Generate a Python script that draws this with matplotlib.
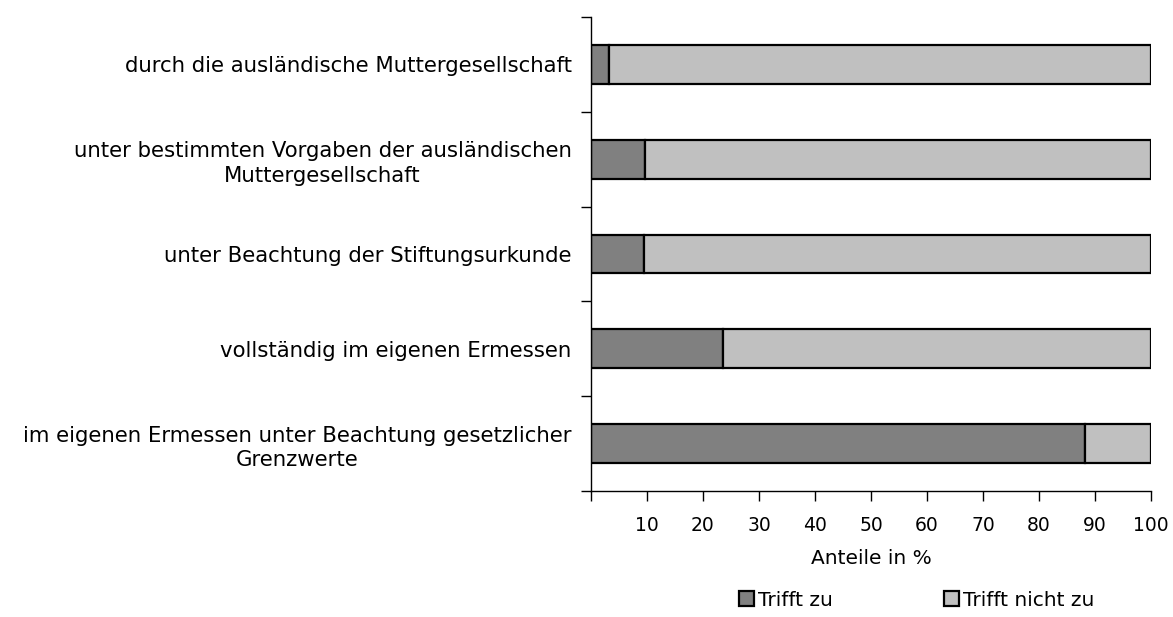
import numpy as np
import matplotlib.pyplot as plt

plt.rcParams['font.family'] = ['DejaVu Sans']

categories = [
    'durch die ausländische Muttergesellschaft',
    'unter bestimmten Vorgaben der ausländischen\nMuttergesellschaft',
    'unter Beachtung der Stiftungsurkunde',
    'vollständig im eigenen Ermessen',
    'im eigenen Ermessen unter Beachtung gesetzlicher\nGrenzwerte',
]
trifft_zu = [3.3, 9.7, 9.4, 23.5, 88.2]
trifft_nicht_zu = [100 - v for v in trifft_zu]

fig = plt.figure(figsize=(11.73, 6.17), dpi=100)
ax = fig.add_axes([591 / 1173, 1 - 491 / 617, 560 / 1173, 474 / 617])

y = np.arange(len(categories))[::-1]
ax.barh(y, trifft_zu, height=0.41, color='#808080', edgecolor='black',
        linewidth=1.6, label='Trifft zu')
ax.barh(y, trifft_nicht_zu, left=trifft_zu, height=0.41, color='#c0c0c0',
        edgecolor='black', linewidth=1.6, label='Trifft nicht zu')

ax.set_xlim(0, 100)
ax.set_ylim(-0.5, len(categories) - 0.5)

# x-Achse: Tick bei 0 ohne Beschriftung
ax.set_xticks(np.arange(0, 101, 10))
ax.set_xticklabels([''] + [str(v) for v in range(10, 101, 10)])
ax.tick_params(axis='x', direction='out', length=7, width=1, labelsize=13.5, pad=11)

# y-Achse: Ticks an den Grenzen, Beschriftung in der Mitte
ax.set_yticks(np.arange(-0.5, len(categories), 1.0))
ax.set_yticklabels([])
ax.set_yticks(y, minor=True)
ax.set_yticklabels(categories, minor=True, fontsize=15.3, ha='right',
                   multialignment='center', linespacing=1.3)
ax.tick_params(axis='y', which='major', direction='out', length=7, width=1)
ax.tick_params(axis='y', which='minor', length=0, pad=14)

for s in ['top', 'right']:
    ax.spines[s].set_visible(False)
for s in ['left', 'bottom']:
    ax.spines[s].set_linewidth(1)

ax.set_xlabel('Anteile in %', fontsize=14.5, labelpad=10)

fig.legend(loc='center', bbox_to_anchor=(917 / 1173, 1 - 600 / 617), ncol=2,
           frameon=False, fontsize=14.5, handlelength=0.75, handleheight=0.75,
           handletextpad=0.2, columnspacing=5.5)

fig.savefig('out.png', dpi=100)
